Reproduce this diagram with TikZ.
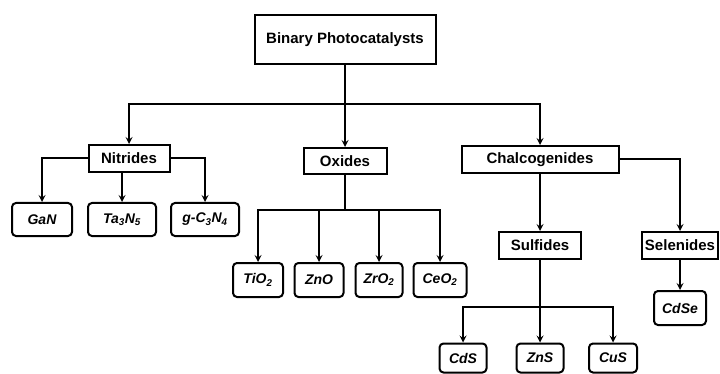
\documentclass[tikz,border=0pt]{standalone}
\usepackage{fontspec}
\setmainfont{Liberation Sans}
\usetikzlibrary{arrows}

\begin{document}
\begin{tikzpicture}[x=1pt,y=-1pt,line width=2pt,>=stealth,
    group/.style={draw,fill=white,inner sep=0pt,minimum height=27pt,
        font=\fontsize{15}{15}\selectfont\bfseries},
    leaf/.style={draw,fill=white,rounded corners=4pt,inner sep=0pt,minimum height=33pt,
        font=\fontsize{14}{14}\selectfont\bfseries\itshape}]
\useasboundingbox (0,0) rectangle (720,374);

% main classes
\node[group, minimum width=181pt, minimum height=49pt] (root) at (345,39.5) {Binary Photocatalysts};
\node[group, minimum width=81pt] (nit) at (129,158.5) {Nitrides};
\node[group, minimum width=83pt, minimum height=26pt] (oxi) at (345,161) {Oxides};
\node[group, minimum width=157pt] (chal) at (540,159.5) {Chalcogenides};
\node[group, minimum width=82pt] (sul) at (540,245.5) {Sulfides};
\node[group, minimum width=76pt] (sel) at (680,245.5) {Selenides};

% compounds
\foreach \n/\x/\w/\t in {gan/42/60/GaN, tan/122/68/Ta\textsubscript{3}N\textsubscript{5},
    gcn/205/68/g-C\textsubscript{3}N\textsubscript{4}} {
    \node[leaf, minimum width=\w pt] (\n) at (\x,219.5) {\t};
}
\foreach \n/\x/\w/\t in {tio/258/50/TiO\textsubscript{2}, zno/319/49/ZnO,
    zro/379/47/ZrO\textsubscript{2}, ceo/440/53/CeO\textsubscript{2}} {
    \node[leaf, minimum width=\w pt, minimum height=34pt] (\n) at (\x,280) {\t};
}
\node[leaf, minimum width=52pt, minimum height=34pt] (cdse) at (680,308) {CdSe};
\foreach \n/\x/\w/\t in {cds/463/47/CdS, zns/540/47/ZnS, cus/613/48/CuS} {
    \node[leaf, minimum width=\w pt, minimum height=29pt] (\n) at (\x,358) {\t};
}

% connectors
\coordinate (rootbus) at (345,104);
\draw (root.south) -- (rootbus);
\draw[->] (rootbus) -- (oxi.north);
\draw[->] (rootbus) -| (nit.north);
\draw[->] (rootbus) -| (chal.north);

\draw[->] (nit.west) -| (gan.north);
\draw[->] (nit.south -| tan.north) -- (tan.north);
\draw[->] (nit.east) -| (gcn.north);

\coordinate (oxbus) at (345,210);
\draw (oxi.south) -- (oxbus);
\foreach \n in {tio,zno,zro,ceo} {
    \draw[->] (oxbus) -| (\n.north);
}

\draw[->] (chal.south) -- (sul.north);
\draw[->] (chal.east) -| (sel.north);
\draw[->] (sel.south) -- (cdse.north);

\coordinate (sulbus) at (540,307);
\draw (sul.south) -- (sulbus);
\foreach \n in {cds,zns,cus} {
    \draw[->] (sulbus) -| (\n.north);
}
\end{tikzpicture}
\end{document}
